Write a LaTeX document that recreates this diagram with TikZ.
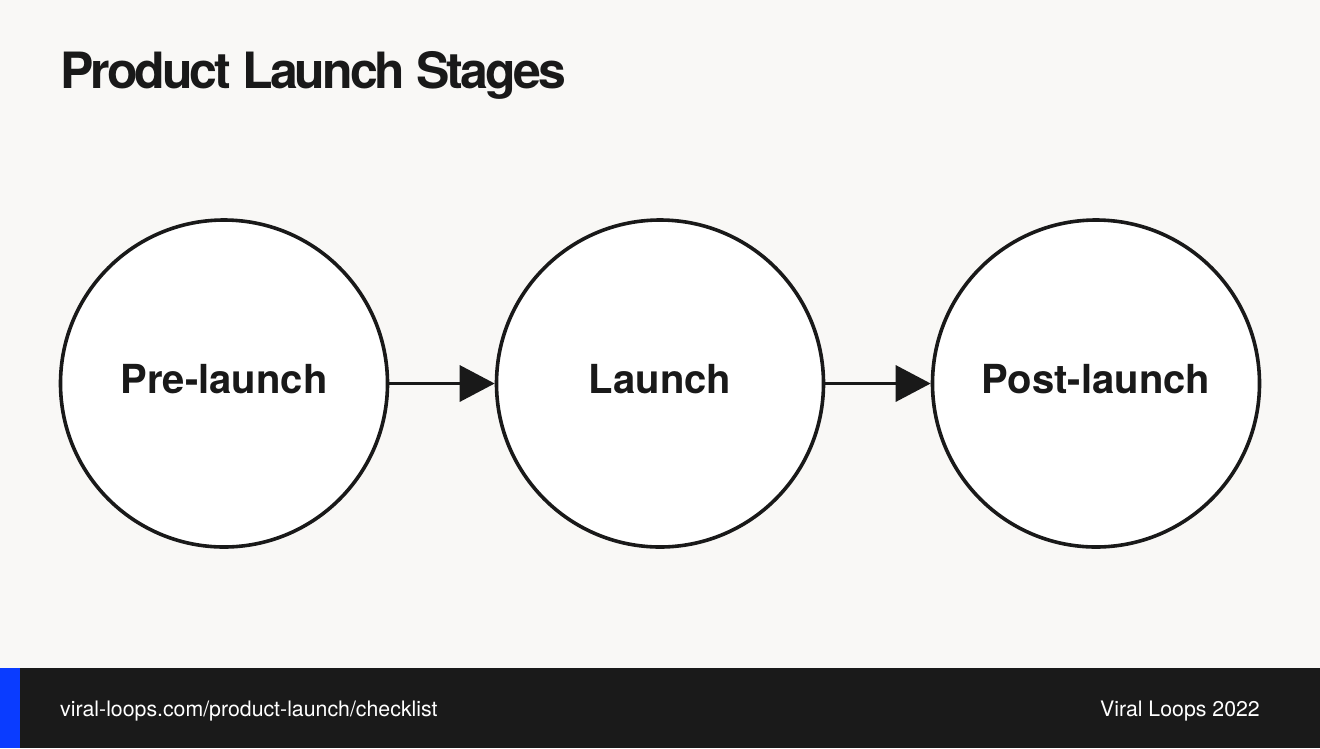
\documentclass[tikz,border=0pt]{standalone}
\usepackage{fontspec}
\setmainfont{TeX Gyre Heros}
\usetikzlibrary{arrows.meta}
\definecolor{bg}{HTML}{F9F8F6}
\definecolor{ink}{HTML}{191919}
\definecolor{footbg}{HTML}{1A1A1A}
\definecolor{accent}{HTML}{0A3CFF}
\tikzset{
  stage/.style={circle, draw=ink, line width=3.6pt, fill=white, minimum size=327pt, inner sep=0pt},
  lbl/.style={anchor=base, inner sep=0pt, font=\fontsize{40}{42}\selectfont\bfseries, text=ink},
  flow/.style={draw=ink, line width=3.4pt, -{Triangle[length=35pt,width=36pt]}},
  foot/.style={font=\fontsize{21.3}{23}\selectfont, text=white, inner sep=0pt}
}
\begin{document}
\begin{tikzpicture}[x=1pt,y=-1pt]
\useasboundingbox (0,0) rectangle (1320,748);
\fill[bg] (0,0) rectangle (1320,748);
\fill[footbg] (0,668) rectangle (1320,748);
\fill[accent] (0,668) rectangle (20,748);
\node[anchor=base west, inner sep=0pt, text=ink, font=\fontsize{50}{52}\selectfont\bfseries\addfontfeature{LetterSpace=-5.9}] (title) at (60,88) {Product Launch Stages};
\node[stage] (pre) at (224,383.5) {};
\node[stage] (launch) at (660,383.5) {};
\node[stage] (post) at (1096,383.5) {};
\node[lbl] (prel) at (224,393) {Pre-launch};
\node[lbl] (launchl) at (660,393) {Launch};
\node[lbl] (postl) at (1096,393) {Post-launch};
\draw[flow] (pre) -- (launch);
\draw[flow] (launch) -- (post);
\node[foot, anchor=base west] (url) at (60,716) {viral-loops.com/product-launch/checklist};
\node[foot, anchor=base east] (brand) at (1260,716) {Viral Loops 2022};
\end{tikzpicture}
\end{document}
